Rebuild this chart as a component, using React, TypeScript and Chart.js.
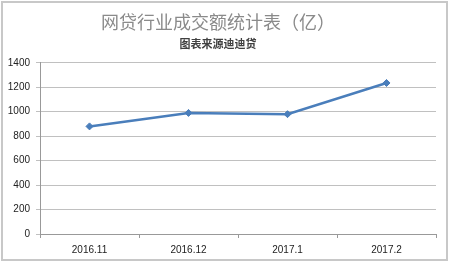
import React, { useEffect, useRef } from "react";
import { Chart, registerables } from "chart.js";

Chart.register(...registerables);

const categories = ["2016.11", "2016.12", "2017.1", "2017.2"];
const volumes = [880, 990, 980, 1235];
const yTicks = [0, 200, 400, 600, 800, 1000, 1200, 1400];
const titleText = "网贷行业成交额统计表（亿）";
const subtitleText = "图表来源迪迪贷";

const borderPlugin = {
  id: "outerBorder",
  beforeDraw(chart: any) {
    const ctx = chart.ctx;
    ctx.save();
    ctx.fillStyle = "#ffffff";
    ctx.fillRect(0, 0, chart.width, chart.height);
    ctx.strokeStyle = "#c8c8c8";
    ctx.lineWidth = 2;
    ctx.strokeRect(2, 2, 445, 258);
    ctx.restore();
  },
};

export default function App() {
  const ref = useRef<HTMLCanvasElement>(null);
  useEffect(() => {
    document.body.style.margin = "0";
    const chart = new Chart(ref.current!, {
      type: "line",
      data: {
        labels: categories,
        datasets: [
          {
            data: volumes,
            borderColor: "#4a7ebb",
            backgroundColor: "#4a7ebb",
            borderWidth: 2.5,
            pointStyle: "rectRot",
            pointRadius: 3.5,
            pointBorderWidth: 1,
            tension: 0,
          },
        ],
      },
      options: {
        animation: false,
        responsive: false,
        layout: { padding: { left: 0, right: 14, top: 0, bottom: 0 } },
        plugins: {
          legend: { display: false },
          tooltip: { enabled: false },
          title: {
            display: true,
            text: titleText,
            color: "#8a8a8a",
            font: { family: "'Noto Sans CJK SC'", size: 18, weight: "normal" },
            padding: { top: 11, bottom: 5 },
          },
          subtitle: {
            display: true,
            text: subtitleText,
            color: "#404040",
            font: { family: "'Noto Sans CJK SC'", size: 11, weight: "bold" },
            padding: { top: 0, bottom: 12 },
          },
        },
        scales: {
          x: {
            offset: true,
            grid: {
              offset: true,
              drawOnChartArea: false,
              drawTicks: true,
              tickLength: 4,
              color: "#999999",
            },
            border: { color: "#999999" },
            ticks: {
              color: "#222222",
              font: { family: "'Liberation Sans'", size: 10 },
              padding: 6,
              maxRotation: 0,
            },
            afterFit: (s: any) => {
              s.height = 30;
            },
          },
          y: {
            min: 0,
            max: 1400,
            afterBuildTicks: (s: any) => {
              s.ticks = yTicks.map((v) => ({ value: v }));
            },
            grid: {
              color: "#c0c0c0",
              drawTicks: true,
              tickLength: 4,
            },
            border: { color: "#999999" },
            ticks: {
              color: "#222222",
              font: { family: "'Liberation Sans'", size: 10 },
              padding: 6,
              callback: (v: any) => String(v),
            },
            afterFit: (s: any) => {
              s.width = 40;
            },
          },
        },
      },
      plugins: [borderPlugin],
    });
    return () => chart.destroy();
  }, []);
  return <canvas ref={ref} width={450} height={264} style={{ display: "block" }} />;
}
